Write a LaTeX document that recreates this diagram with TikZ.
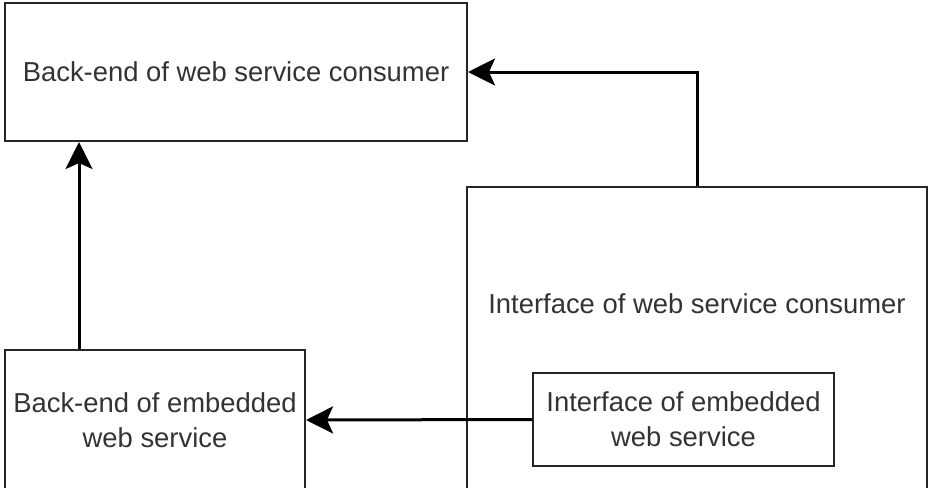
\documentclass[tikz,border=0pt]{standalone}
\usepackage{fontspec}
\setmainfont{Liberation Sans}
\usepackage{tikz}
\usetikzlibrary{arrows.meta,calc,positioning}

\tikzset{
  box/.style={draw=black!85,line width=2pt,rectangle,inner sep=0pt,
    align=center,text=black!80,font=\fontsize{27.4}{35}\selectfont},
  flow/.style={draw=black,line width=3pt,
    -{Stealth[length=27pt,width=27pt,inset=6pt]}}
}

\begin{document}
\begin{tikzpicture}[x=1pt,y=-1pt]
   \useasboundingbox (0,0) rectangle (928,487);
   \clip (0,0) rectangle (928,487);
   \begin{scope}[every node/.style={box}]
    \node (consumerback) [minimum width=462pt,minimum height=138pt] at (236,72) {Back-end of web service consumer};
    \node (consumerface) [minimum width=460pt,minimum height=340pt] at (697,357) {};
    \node (embeddedback) [minimum width=300pt,minimum height=140pt] at (155,420) {Back-end of embedded\\web service};
    \node (embeddedface) [minimum width=301pt,minimum height=93pt] at (683.5,419.5) {Interface of embedded\\web service};
   \end{scope}
   \node (consumerfacetext) [box,draw=none] at (697,304) {Interface of web service consumer};
   \coordinate (upfoot) at ([xshift=75pt]embeddedback.north west);
   \begin{scope}[flow]
    \draw (consumerface.north) |- (consumerback.east);
    \draw (upfoot) -- (upfoot |- consumerback.south);
    \draw (embeddedface.west) -- (embeddedback.east);
   \end{scope}
\end{tikzpicture}
\end{document}
